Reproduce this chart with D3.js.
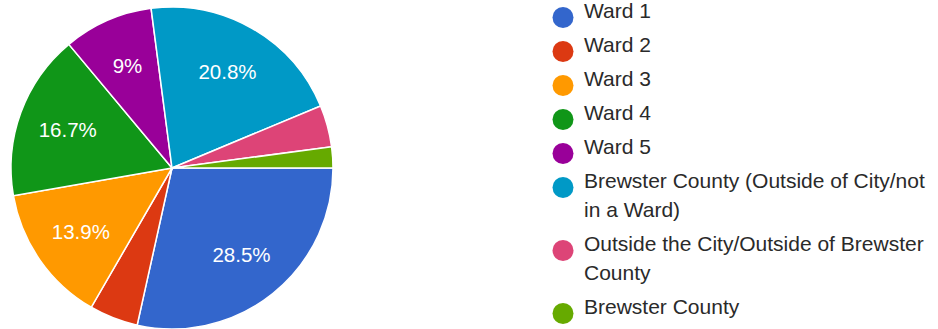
<!DOCTYPE html>
<html>
<head>
<meta charset="utf-8">
<script src="https://cdn.jsdelivr.net/npm/d3@7"></script>
<style>
body { margin: 0; background: #fff; }
</style>
</head>
<body>
<script>
/* chart data */
var categories = ["Ward 1", "Ward 2", "Ward 3", "Ward 4", "Ward 5",
	"Brewster County (Outside of City/not in a Ward)",
	"Outside the City/Outside of Brewster County",
	"Brewster County"];
var percents = [28.5, 4.9, 13.9, 16.7, 9, 20.8, 4.2, 2.1];
var colours = ["#3366cc", "#dc3912", "#ff9900", "#109618", "#990099", "#0099c6", "#dd4477", "#66aa00"];

var width = 938, height = 329, cx = 172, cy = 168, radius = 161;

var svg = d3.select("body").append("svg")
	.attr("width", width).attr("height", height);

var data = categories.map(function(c, i){ return {name: c, value: percents[i], colour: colours[i]}; });

/*pie starts at 3 o'clock and goes clockwise*/
var pie = d3.pie().sort(null).value(function(d){ return d.value; })
	.startAngle(Math.PI/2).endAngle(Math.PI/2 + 2*Math.PI);
var arc = d3.arc().innerRadius(0).outerRadius(radius);
var labelArc = d3.arc().innerRadius(radius*0.69).outerRadius(radius*0.69);

var pieGroup = svg.append("g").attr("transform", "translate(" + cx + "," + cy + ")");

pieGroup.selectAll("path").data(pie(data)).enter().append("path")
	.attr("d", arc)
	.attr("fill", function(d){ return d.data.colour; })
	.attr("stroke", "white").attr("stroke-width", 1.5);

pieGroup.selectAll("text").data(pie(data).filter(function(d){ return d.data.value >= 5; }))
	.enter().append("text")
	.attr("transform", function(d){ return "translate(" + labelArc.centroid(d) + ")"; })
	.attr("text-anchor", "middle").attr("dy", "0.35em")
	.attr("font-family", "Liberation Sans, Arial, sans-serif").attr("font-size", 20.5)
	.attr("fill", "white")
	.text(function(d){ return d.data.value + "%"; });

/*legend*/
var legend = svg.append("g").attr("transform", "translate(563,17.5)");
var rowGap = 34, lineGap = 29, maxWidth = 352;
var y = 0;
data.forEach(function(d){
	var row = legend.append("g").attr("transform", "translate(0," + y + ")");
	row.append("circle").attr("r", 10.5).attr("fill", d.colour);
	var text = row.append("text")
		.attr("x", 21).attr("dy", "0.36em")
		.attr("font-family", "Liberation Sans, Arial, sans-serif").attr("font-size", 21)
		.attr("fill", "#2a2a2a");
	/*wrap long names*/
	var words = d.name.split(" "), line = [], lines = 0;
	var tspan = text.append("tspan").attr("x", 21).attr("dy", 0);
	words.forEach(function(w){
		line.push(w);
		tspan.text(line.join(" "));
		if (tspan.node().getComputedTextLength() > maxWidth && line.length > 1) {
			line.pop();
			tspan.text(line.join(" "));
			line = [w];
			lines++;
			tspan = text.append("tspan").attr("x", 21).attr("dy", lineGap).text(w);
		}
	});
	y += rowGap + lines*lineGap;
});
</script>
</body>
</html>
